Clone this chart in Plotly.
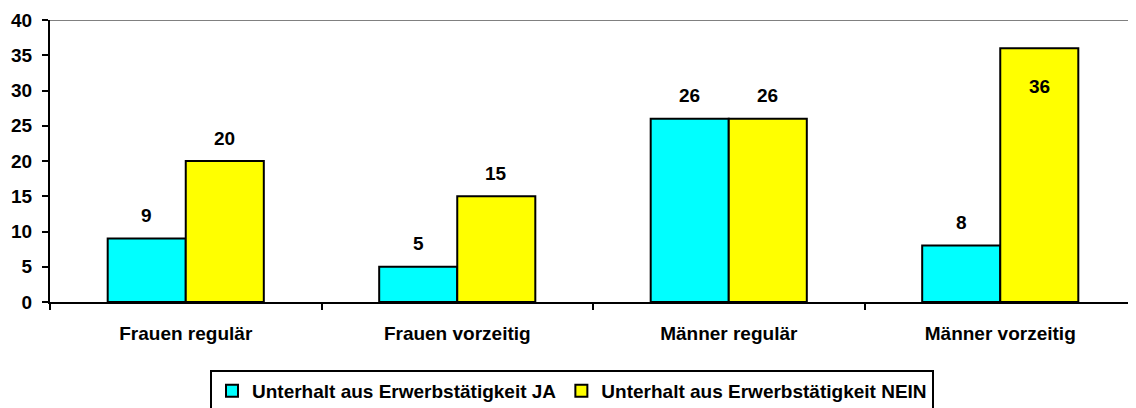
import plotly.graph_objects as go

categories = ["Frauen regulär", "Frauen vorzeitig", "Männer regulär", "Männer vorzeitig"]
ja_values = [9, 5, 26, 8]
nein_values = [20, 15, 26, 36]
series_names = ["Unterhalt aus Erwerbstätigkeit JA", "Unterhalt aus Erwerbstätigkeit NEIN"]
y_ticks = [0, 5, 10, 15, 20, 25, 30, 35, 40]

FONT = "Liberation Sans, Arial, sans-serif"
FS = 19

fig = go.Figure()
fig.add_trace(go.Bar(x=categories, y=ja_values, name=f"<b>{series_names[0]}</b>",
                     marker=dict(color="#00FFFF", line=dict(color="black", width=2))))
fig.add_trace(go.Bar(x=categories, y=nein_values, name=f"<b>{series_names[1]}</b>",
                     marker=dict(color="#FFFF00", line=dict(color="black", width=2))))

# data labels
off = 0.1436
for i, v in enumerate(ja_values):
    fig.add_annotation(x=i - off, y=v, text=f"<b>{v}</b>", showarrow=False,
                       yshift=23, font=dict(size=FS, color="black", family=FONT))
for i, v in enumerate(nein_values):
    inside = v > 32
    fig.add_annotation(x=i + off, y=v, text=f"<b>{v}</b>", showarrow=False,
                       yshift=-38 if inside else 23, font=dict(size=FS, color="black", family=FONT))

fig.add_shape(type="line", xref="paper", yref="y", x0=0, x1=1, y0=40, y1=40,
              line=dict(color="#808080", width=2))

fig.update_layout(
    width=1128, height=400,
    margin=dict(l=42, r=0, t=12, b=106, autoexpand=False),
    plot_bgcolor="white", paper_bgcolor="white",
    barmode="group", bargap=0.425, bargroupgap=0,
    font=dict(family=FONT, size=FS, color="black"),
    showlegend=True,
    legend=dict(orientation="h", xref="container", x=0.5, xanchor="center",
                yref="container", y=0.095, yanchor="top",
                bordercolor="black", borderwidth=2,
                font=dict(size=FS, family=FONT), itemwidth=30,
                traceorder="normal"),
)
fig.update_xaxes(showline=True, linecolor="black", linewidth=2, automargin=False,
                 ticks="outside", tickson="boundaries", ticklen=6, tickwidth=2, tickcolor="black",
                 tickfont=dict(size=FS, family=FONT), ticklabelstandoff=13,
                 ticktext=[f"<b>{c}</b>" for c in categories], tickvals=categories,
                 showgrid=False)
fig.update_yaxes(range=[0, 40], tickvals=y_ticks, ticktext=[f"<b>{t}</b>" for t in y_ticks],
                 showline=True, linecolor="black", linewidth=2, automargin=False,
                 ticks="outside", ticklen=6, tickwidth=2, tickcolor="black",
                 tickfont=dict(size=FS, family=FONT), ticklabelstandoff=6,
                 showgrid=False, zeroline=False)

fig.write_html("out.html")
